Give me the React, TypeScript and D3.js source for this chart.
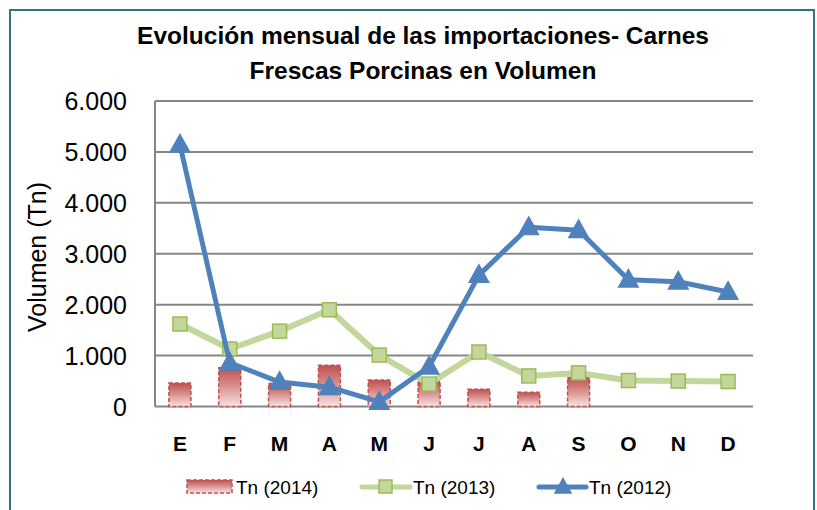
import React from "react";
import { scaleBand, scaleLinear, line } from "d3";

const months = ["E", "F", "M", "A", "M", "J", "J", "A", "S", "O", "N", "D"];
const tn2014 = [460, 760, 450, 810, 520, 500, 340, 280, 570, null, null, null];
const tn2013 = [1620, 1130, 1480, 1900, 1010, 440, 1070, 600, 660, 510, 500, 490];
const tn2012 = [5140, 860, 480, 380, 90, 780, 2580, 3520, 3460, 2490, 2450, 2250];
const yTicks = [0, 1000, 2000, 3000, 4000, 5000, 6000];
const yTickLabels = ["0", "1.000", "2.000", "3.000", "4.000", "5.000", "6.000"];
const titleLines = ["Evolución mensual de las importaciones- Carnes", "Frescas Porcinas en Volumen"];
const legendLabels = ["Tn (2014)", "Tn (2013)", "Tn (2012)"];

const W = 817;
const H = 510;
const PLOT_LEFT = 155;
const PLOT_RIGHT = 753;
const PLOT_TOP = 101;
const PLOT_BOTTOM = 406.5;

const FONT = "'Liberation Sans', Arial, sans-serif";
const BLUE = "#4f81bd";
const GREEN_LINE = "#c3d69b";
const GREEN_EDGE = "#9bbb59";
const RED = "#c0504d";

export default function App() {
  const idx = months.map((_, i) => i);
  const x = scaleBand<number>().domain(idx).range([PLOT_LEFT, PLOT_RIGHT]);
  const y = scaleLinear().domain([0, 6000]).range([PLOT_BOTTOM, PLOT_TOP]);
  const cx = (i: number) => x(i)! + x.bandwidth() / 2;
  const barW = 22;

  const lineGen = line<number>()
    .x((_, i) => cx(i))
    .y((d) => y(d));

  const tri = (px: number, py: number, s: number) =>
    `M${px},${py - s * 0.62}L${px + s * 0.58},${py + s * 0.42}L${px - s * 0.58},${py + s * 0.42}Z`;

  return (
    <svg width={W} height={H} style={{ position: "absolute", left: 0, top: 0 }}>
      <defs>
        <linearGradient id="barGrad" x1="0" y1="0" x2="0" y2="1">
          <stop offset="0" stopColor="#c0504d" />
          <stop offset="0.5" stopColor="#d99593" />
          <stop offset="1" stopColor="#f6e3e2" />
        </linearGradient>
      </defs>
      <rect x={0} y={0} width={W} height={H} fill="#fff" />
      <rect x={10} y={10} width={804} height={520} fill="#fff" stroke="#3b6f83" strokeWidth={2} />

      {titleLines.map((t, i) => (
        <text
          key={i}
          x={423}
          y={44 + i * 35}
          textAnchor="middle"
          fontFamily={FONT}
          fontWeight="bold"
          fontSize={24.5}
          fill="#000"
        >
          {t}
        </text>
      ))}

      {/* grid */}
      {yTicks.map((v, i) => (
        <g key={v}>
          <line x1={PLOT_LEFT} x2={PLOT_RIGHT} y1={y(v)} y2={y(v)} stroke="#868686" strokeWidth={2} />
          <text
            x={127}
            y={y(v)}
            dy="0.36em"
            textAnchor="end"
            fontFamily={FONT}
            fontSize={25}
            fill="#000"
          >
            {yTickLabels[i]}
          </text>
        </g>
      ))}
      <line x1={PLOT_LEFT} x2={PLOT_LEFT} y1={PLOT_TOP} y2={PLOT_BOTTOM} stroke="#868686" strokeWidth={2} />

      <text
        transform={`translate(37, 257) rotate(-90)`}
        textAnchor="middle"
        dy="0.36em"
        fontFamily={FONT}
        fontSize={25}
        fill="#000"
      >
        Volumen (Tn)
      </text>

      {/* bars 2014 */}
      {tn2014.map((v, i) =>
        v == null ? null : (
          <rect
            key={i}
            x={cx(i) - barW / 2}
            y={y(v)}
            width={barW}
            height={PLOT_BOTTOM - y(v)}
            fill="url(#barGrad)"
            stroke={RED}
            strokeWidth={1.5}
            strokeDasharray="4,2"
          />
        )
      )}

      {/* 2013 */}
      <path d={lineGen(tn2013)!} fill="none" stroke={GREEN_LINE} strokeWidth={6} strokeLinejoin="round" />
      {tn2013.map((v, i) => (
        <rect
          key={i}
          x={cx(i) - 7}
          y={y(v) - 7}
          width={14}
          height={14}
          fill={GREEN_LINE}
          stroke={GREEN_EDGE}
          strokeWidth={1.5}
        />
      ))}

      {/* 2012 */}
      <path d={lineGen(tn2012)!} fill="none" stroke={BLUE} strokeWidth={5} strokeLinejoin="round" />
      {tn2012.map((v, i) => (
        <path key={i} d={tri(cx(i), y(v), 19)} fill={BLUE} />
      ))}

      {/* x labels */}
      {months.map((m, i) => (
        <text
          key={i}
          x={cx(i)}
          y={443}
          dy="0.36em"
          textAnchor="middle"
          fontFamily={FONT}
          fontWeight="bold"
          fontSize={21}
          fill="#000"
        >
          {m}
        </text>
      ))}

      {/* legend */}
      <g fontFamily={FONT} fontSize={19} fill="#000">
        <rect x={187} y={480} width={45} height={13} fill="url(#barGrad)" stroke={RED} strokeWidth={1.5} strokeDasharray="4,2" />
        <text x={236} y={487} dy="0.36em">{legendLabels[0]}</text>

        <line x1={362} x2={410} y1={487} y2={487} stroke={GREEN_LINE} strokeWidth={5} strokeLinecap="round" />
        <rect x={379} y={480} width={13} height={13} fill={GREEN_LINE} stroke={GREEN_EDGE} strokeWidth={1.5} />
        <text x={413} y={487} dy="0.36em">{legendLabels[1]}</text>

        <line x1={539} x2={586} y1={487} y2={487} stroke={BLUE} strokeWidth={5} strokeLinecap="round" />
        <path d={tri(563, 487, 16)} fill={BLUE} />
        <text x={589} y={487} dy="0.36em">{legendLabels[2]}</text>
      </g>
    </svg>
  );
}
